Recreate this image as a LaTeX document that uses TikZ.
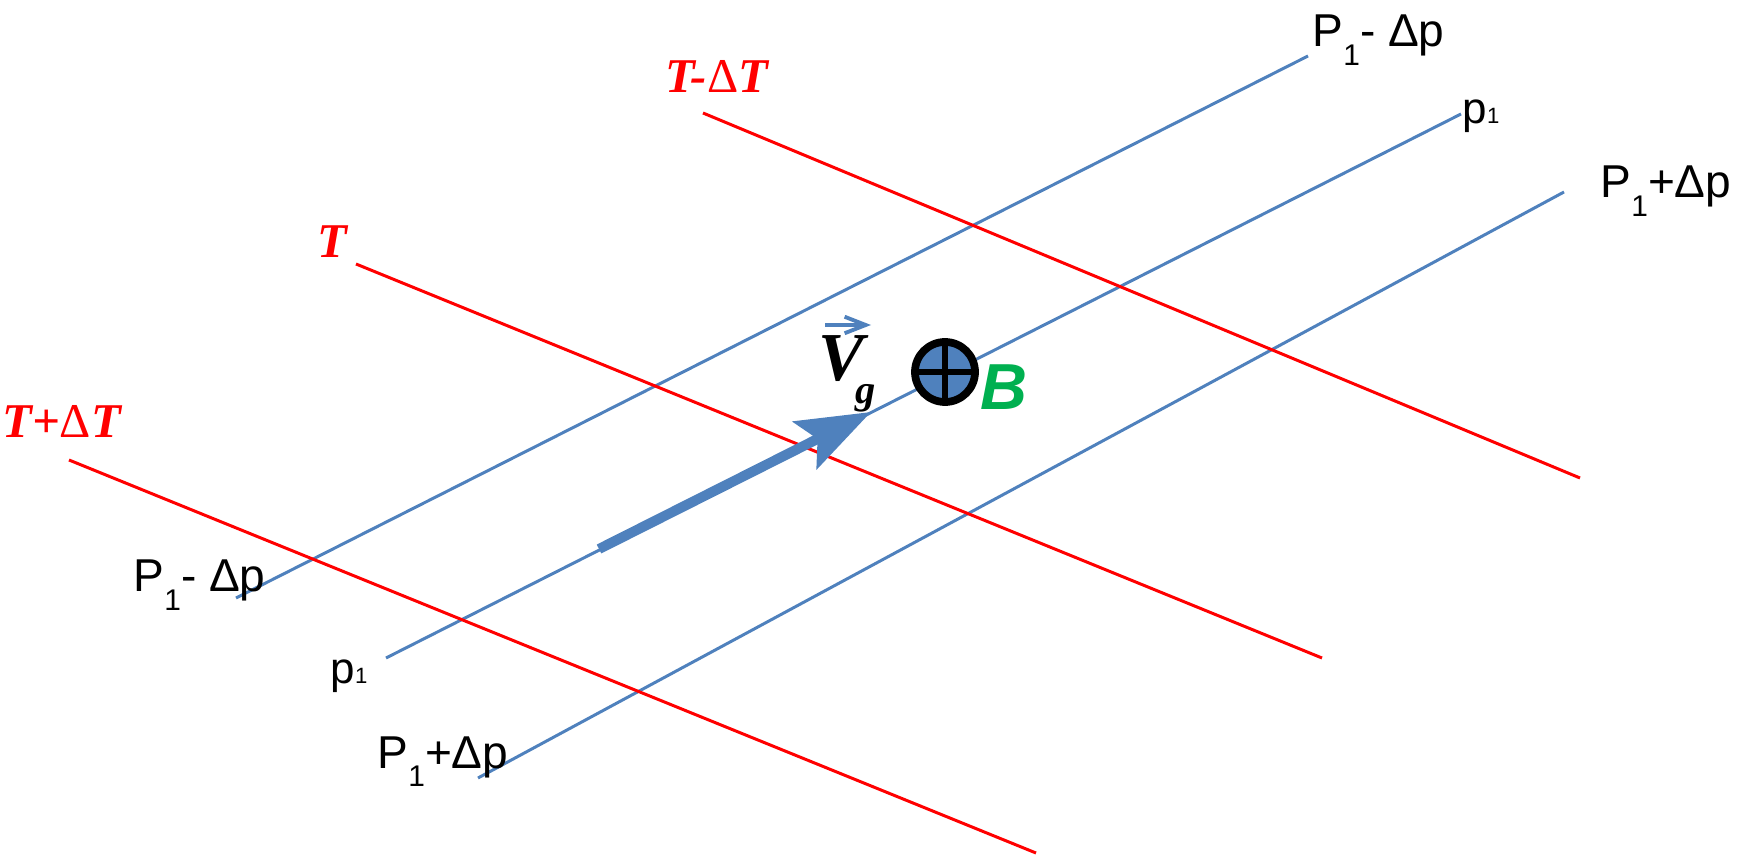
\documentclass[tikz,border=0pt]{standalone}
\usepackage{fontspec}
\setmainfont{Liberation Sans}
\newfontfamily\tnr{Liberation Serif}
\usepackage{tikz}
\usetikzlibrary{arrows.meta,positioning,calc}
\definecolor{isoblue}{RGB}{79,129,189}
\definecolor{isored}{RGB}{255,0,0}
\definecolor{bgreen}{RGB}{0,176,80}
\newcommand{\lowsub}[1]{\raisebox{-0.4em}{\fontsize{8.5pt}{9pt}\selectfont #1}}
\newcommand{\smallsub}[1]{{\fontsize{6.3pt}{7pt}\selectfont #1}}
\tikzset{
  isobar/.style={draw=isoblue, line width=0.85pt},
  isotherm/.style={draw=isored, line width=0.85pt},
  plabel/.style={anchor=base west, inner sep=0pt, font=\fontsize{13.1pt}{15pt}\selectfont},
  psmall/.style={anchor=base west, inner sep=0pt, font=\fontsize{12.5pt}{14pt}\selectfont},
  tlabel/.style={anchor=base west, inner sep=0pt, text=isored,
                 font=\fontsize{13.8pt}{16pt}\selectfont\tnr\bfseries\itshape},
  wind/.style={-{Stealth[length=21pt,width=15pt,inset=4pt]}, isoblue, line width=2.85pt},
}

\begin{document}
\begin{tikzpicture}[x=0.01cm,y=-0.01cm]
        \useasboundingbox (0,0) rectangle (1742,858);
        % isobars
        \coordinate (pa1) at (236,598);  \coordinate (pa2) at (1308,56);
        \coordinate (pb1) at (386,658);  \coordinate (pb2) at (1461,114);
        \coordinate (pc1) at (478,778);  \coordinate (pc2) at (1564,192);
        \draw[isobar] (pa1) -- (pa2);
        \draw[isobar] (pb1) -- (pb2);
        \draw[isobar] (pc1) -- (pc2);
        % isotherms
        \coordinate (ta1) at (703,113); \coordinate (ta2) at (1580,478);
        \coordinate (tb1) at (356,264); \coordinate (tb2) at (1322,658);
        \coordinate (tc1) at (69,460);  \coordinate (tc2) at (1036,853);
        \draw[isotherm] (ta1) -- (ta2);
        \draw[isotherm] (tb1) -- (tb2);
        \draw[isotherm] (tc1) -- (tc2);
        \node[plabel] (pmtop) at (1312,47) {P\lowsub{1}- {Δ}p};
        \node[plabel] (pmleft) at (133,592) {P\lowsub{1}- {Δ}p};
        \node[psmall] (ptop) at (1462,124) {p\smallsub{1}};
        \node[psmall] (pleft) at (330,683) {p\smallsub{1}};
        \node[plabel] (pptop) at (1600,198) {P\lowsub{1}+{Δ}p};
        \node[plabel] (ppleft) at (377,768) {P\lowsub{1}+{Δ}p};
        \node[tlabel] (tminus) at (665,93) {T-{\upshape\mdseries Δ}T};
        \node[tlabel] (tmid) at (317,258) {T};
        \node[tlabel] (tplus) at (2,438) {T+{\upshape\mdseries Δ}T};
        % geostrophic wind
        \coordinate (w0) at (599,549);
        \coordinate (w1) at (871,412);
        \draw[wind] (w0) -- (w1);
        \node[anchor=base west, inner sep=0pt, font=\fontsize{19.5pt}{21pt}\selectfont\tnr\bfseries\itshape] (vlab) at (818,381)
          {V\hspace{-2.6pt}\raisebox{-6.5pt}{\fontsize{11.5pt}{12pt}\selectfont g}};
        \coordinate (va) at (825,325);
        \coordinate (vb) at (871,325);
        \draw[-{Straight Barb[length=6pt,width=4.7pt]}, isoblue, line width=1.1pt] (va) -- (vb);
        % magnetic field into page
        \node[circle, draw=black, fill=isoblue, line width=2.2pt, minimum size=0.6cm, inner sep=0pt, outer sep=0pt] (bsym) at (945,372) {};
        \draw[line width=1.5pt] (bsym.north) -- (bsym.south);
        \draw[line width=1.5pt] (bsym.west) -- (bsym.east);
        \node[anchor=base west, inner sep=0pt, text=bgreen, font=\fontsize{18.5pt}{20pt}\selectfont\bfseries\itshape] (blab) at (980,410) {B};
      \end{tikzpicture}
\end{document}
